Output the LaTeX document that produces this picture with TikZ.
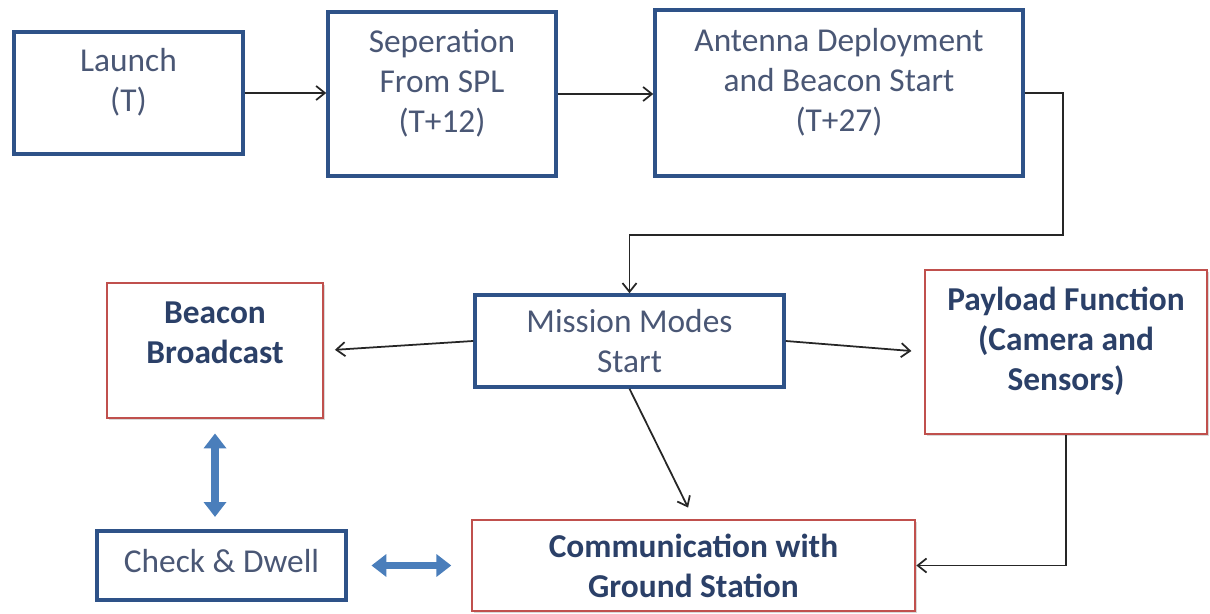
\documentclass[tikz,border=0pt]{standalone}
\usepackage{fontspec}
\setmainfont{Carlito}
\usetikzlibrary{arrows.meta,shadows,positioning,calc}
\definecolor{boxblue}{HTML}{2E5288}
\definecolor{boxred}{HTML}{C0504D}
\definecolor{textblue}{HTML}{4A5775}
\definecolor{boldblue}{HTML}{2B4068}
\definecolor{fatblue}{HTML}{4A7EBB}

\begin{document}
\begin{tikzpicture}[x=0.02cm,y=-0.02cm,
    % 蓝框样式 (流程阶段)
    phase box/.style={
        rectangle,
        draw=boxblue,
        line width=2pt,
        fill=white,
        inner sep=2pt,
        align=center,
        text=textblue,
        font=\fontsize{19}{22.7}\selectfont,
        drop shadow={shadow xshift=1pt, shadow yshift=-1.2pt, opacity=0.3, fill=gray}
    },
    % 红框样式 (任务功能, 粗体)
    task box/.style={
        phase box,
        draw=boxred,
        line width=1.6pt,
        text=boldblue,
        font=\fontsize{19}{22.7}\selectfont\bfseries
    },
    % 文字上移 (加大文字深度)
    lift/.style={text depth=#1},
    % 细箭头
    flow/.style={
        draw=black!85,
        line width=1pt,
        -{Straight Barb[length=5pt, width=8pt]}
    },
    % 蓝色粗双向箭头
    fat arrow/.style={
        draw=fatblue,
        line width=4.5pt,
        {Triangle[length=8.5pt, width=12.5pt]}-{Triangle[length=8.5pt, width=12.5pt]}
    }
]
\useasboundingbox (0,0) rectangle (1210,614);

% 上排: 发射流程
\node[phase box, lift=15pt, minimum width=4.58cm, minimum height=2.44cm] (launch) at (128.5,93) {Launch\\(T)};
\node[phase box, lift=15pt, minimum width=4.56cm, minimum height=3.28cm] (sep) at (442,94) {Seperation\\From SPL\\(T+12)};
\node[phase box, lift=15pt, minimum width=7.36cm, minimum height=3.32cm] (ant) at (839,93) {Antenna Deployment\\and Beacon Start\\(T+27)};

% 中排
\node[task box, lift=20pt, minimum width=4.32cm, minimum height=2.7cm] (beacon) at (215,350.5) {Beacon\\Broadcast};
\node[phase box, minimum width=6.18cm, minimum height=1.84cm] (mission) at (629.5,341) {Mission Modes\\Start};
\node[task box, lift=15pt, minimum width=5.64cm, minimum height=3.28cm] (payload) at (1066,352) {Payload Function\\(Camera and\\Sensors)};

% 下排
\node[phase box, lift=5.5pt, minimum width=4.98cm, minimum height=1.38cm] (check) at (221.5,565.5) {Check \& Dwell};
\node[task box, minimum width=8.86cm, minimum height=1.82cm] (comm) at (693.5,565.5) {Communication with\\Ground Station};

\coordinate (bend) at (1063,235);

% 连线
\draw[flow] (launch.east) -- (launch.east -| sep.west);
\draw[flow] (sep.east) -- (sep.east -| ant.west);
\draw[flow] (ant.east) -| (bend) -| (mission.north);
\draw[flow, shorten >=6pt] (mission.west) -- (beacon.east);
\draw[flow, shorten >=7pt] (mission.east) -- (payload.west);
\draw[flow, shorten >=7pt] (mission.south) -- (comm.north);
\draw[flow] (payload.south) |- (comm.east);

% 双向箭头
\draw[fat arrow, shorten <=8pt, shorten >=7pt] (beacon.south) -- (beacon.south |- check.north);
\draw[fat arrow, shorten <=13.5pt, shorten >=11pt] (check.east) -- (comm.west);

\end{tikzpicture}
\end{document}
